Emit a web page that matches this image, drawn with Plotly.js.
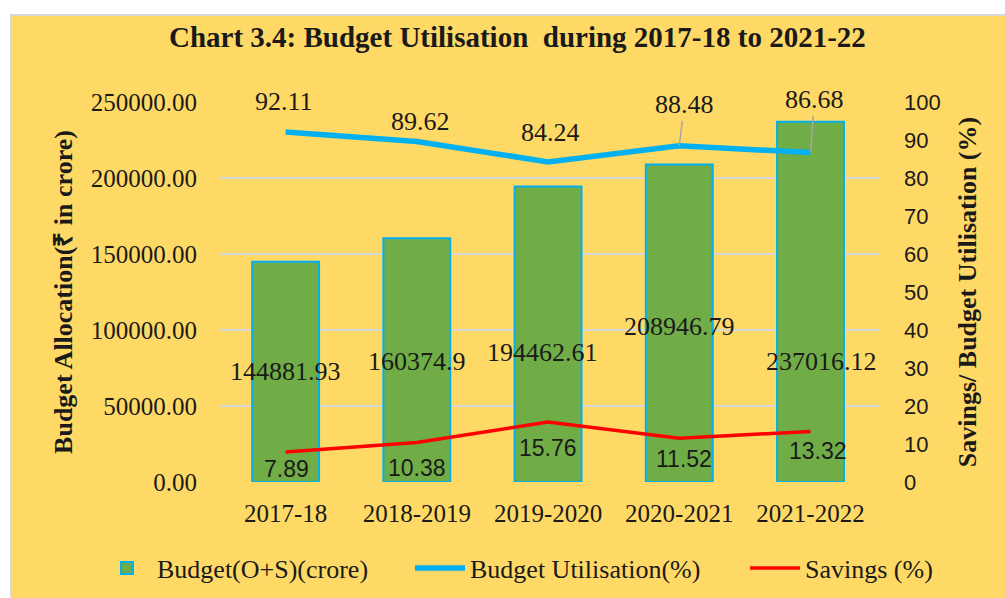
<!DOCTYPE html>
<html>
<head>
<meta charset="utf-8">
<script src="https://cdn.plot.ly/plotly-3.0.1.min.js"></script>
<style>
  html, body { margin: 0; padding: 0; background: #ffffff; }
  #frame { position: absolute; left: 10px; top: 14px; width: 993px; height: 582px;
           border-left: 2px solid #D9D9D9; border-top: 2px solid #D9D9D9; background: #FFD966; }
  #chart { width: 993px; height: 582px; }
</style>
</head>
<body>
<div id="frame"><div id="chart"></div></div>
<script>
// ---- data ----
const categories = ["2017-18", "2018-2019", "2019-2020", "2020-2021", "2021-2022"];
const budget = [144881.93, 160374.9, 194462.61, 208946.79, 237016.12];
const utilisation = [92.11, 89.62, 84.24, 88.48, 86.68];
const savings = [7.89, 10.38, 15.76, 11.52, 13.32];
const seriesNames = ["Budget(O+S)(crore)", "Budget Utilisation(%)", "Savings (%)"];
const leftTicks = [0, 50000, 100000, 150000, 200000, 250000];
const rightTicks = [0, 10, 20, 30, 40, 50, 60, 70, 80, 90, 100];

// ---- label placement (pixel offsets from each mark) ----
const budgetLabelShift = [[0, -110], [0, -123], [-6, -166], [0, -162], [11, -240]];
const utilLabelShift = [[-2, 30], [4, 20], [2, 29], [5, 41], [4, 53]];
const utilLeader = [false, false, false, true, true];
const savingsLabelShift = [[1, -17], [0, -25], [0, -26], [5, -21], [7, -20]];
const legendX = [0.0856, 0.4008, 0.7382];

const serif = "Liberation Serif, Times New Roman, serif";
const sans = "Liberation Sans, Arial, sans-serif";
const ink = "#1a1a1a";

const traces = [
  {
    type: "bar", name: seriesNames[0], x: categories, y: budget, yaxis: "y", legend: "legend",
    marker: { color: "#70AD47", line: { color: "#00B0F0", width: 2 } }
  },
  {
    type: "scatter", mode: "lines", name: seriesNames[1], x: categories, y: utilisation,
    yaxis: "y2", legend: "legend2", line: { color: "#00B0F0", width: 5.5 }
  },
  {
    type: "scatter", mode: "lines", name: seriesNames[2], x: categories, y: savings,
    yaxis: "y2", legend: "legend3", line: { color: "#FF0000", width: 3.5 }
  }
];

const annotations = [];
categories.forEach((c, i) => {
  annotations.push({
    x: c, y: budget[i], xref: "x", yref: "y", text: String(budget[i]), showarrow: false,
    xshift: budgetLabelShift[i][0], yshift: budgetLabelShift[i][1],
    font: { family: serif, size: 26, color: ink }
  });
  if (utilLeader[i]) {
    annotations.push({
      x: c, y: utilisation[i], xref: "x", yref: "y2", text: String(utilisation[i]),
      showarrow: true, arrowhead: 0, arrowwidth: 1.5, arrowcolor: "#A6A6A6", standoff: 0,
      ax: utilLabelShift[i][0], ay: -utilLabelShift[i][1],
      font: { family: serif, size: 26, color: ink }
    });
  } else {
    annotations.push({
      x: c, y: utilisation[i], xref: "x", yref: "y2", text: String(utilisation[i]), showarrow: false,
      xshift: utilLabelShift[i][0], yshift: utilLabelShift[i][1],
      font: { family: serif, size: 26, color: ink }
    });
  }
  annotations.push({
    x: c, y: savings[i], xref: "x", yref: "y2", text: String(savings[i]), showarrow: false,
    xshift: savingsLabelShift[i][0], yshift: savingsLabelShift[i][1],
    font: { family: sans, size: 23, color: ink }
  });
});

function legendAt(x) {
  return {
    orientation: "h", x: x, xanchor: "left", xref: "container",
    y: 0.0515, yanchor: "middle", yref: "container",
    font: { family: serif, size: 26, color: ink },
    bgcolor: "rgba(0,0,0,0)", itemwidth: 50
  };
}

const layout = {
  width: 993, height: 582,
  paper_bgcolor: "rgba(0,0,0,0)", plot_bgcolor: "rgba(0,0,0,0)",
  margin: { l: 208, r: 126, t: 86, b: 116, pad: 0 },
  title: {
    text: "<b>Chart 3.4: Budget Utilisation  during 2017-18 to 2021-22</b>",
    font: { family: serif, size: 29, color: ink },
    x: 0.509, xanchor: "center", xref: "container",
    y: 0.964, yanchor: "middle", yref: "container"
  },
  bargap: 0.49,
  showlegend: true,
  legend: legendAt(legendX[0]),
  legend2: legendAt(legendX[1]),
  legend3: legendAt(legendX[2]),
  xaxis: {
    type: "category", showgrid: false, zeroline: false, showline: false, ticks: "",
    tickfont: { family: serif, size: 25, color: ink }, ticklabelstandoff: 14
  },
  yaxis: {
    range: [0, 250000], tickvals: leftTicks, tickformat: ".2f",
    showgrid: true, gridcolor: "#D9D9D9", gridwidth: 2, zeroline: false, showline: false, ticks: "",
    tickfont: { family: serif, size: 25, color: ink }, ticklabelstandoff: 22,
    title: { text: "<b>Budget Allocation(₹ in crore)</b>", font: { family: serif, size: 26, color: ink }, standoff: 10 }
  },
  yaxis2: {
    range: [0, 100], tickvals: rightTicks, overlaying: "y", side: "right",
    showgrid: false, zeroline: false, showline: false, ticks: "",
    tickfont: { family: sans, size: 22, color: ink }, ticklabelstandoff: 24,
    title: { text: "<b>Savings/ Budget Utilisation (%)</b>", font: { family: serif, size: 26, color: ink }, standoff: 18 }
  },
  annotations: annotations
};

Plotly.newPlot("chart", traces, layout, { displayModeBar: false, staticPlot: true });
</script>
</body>
</html>
